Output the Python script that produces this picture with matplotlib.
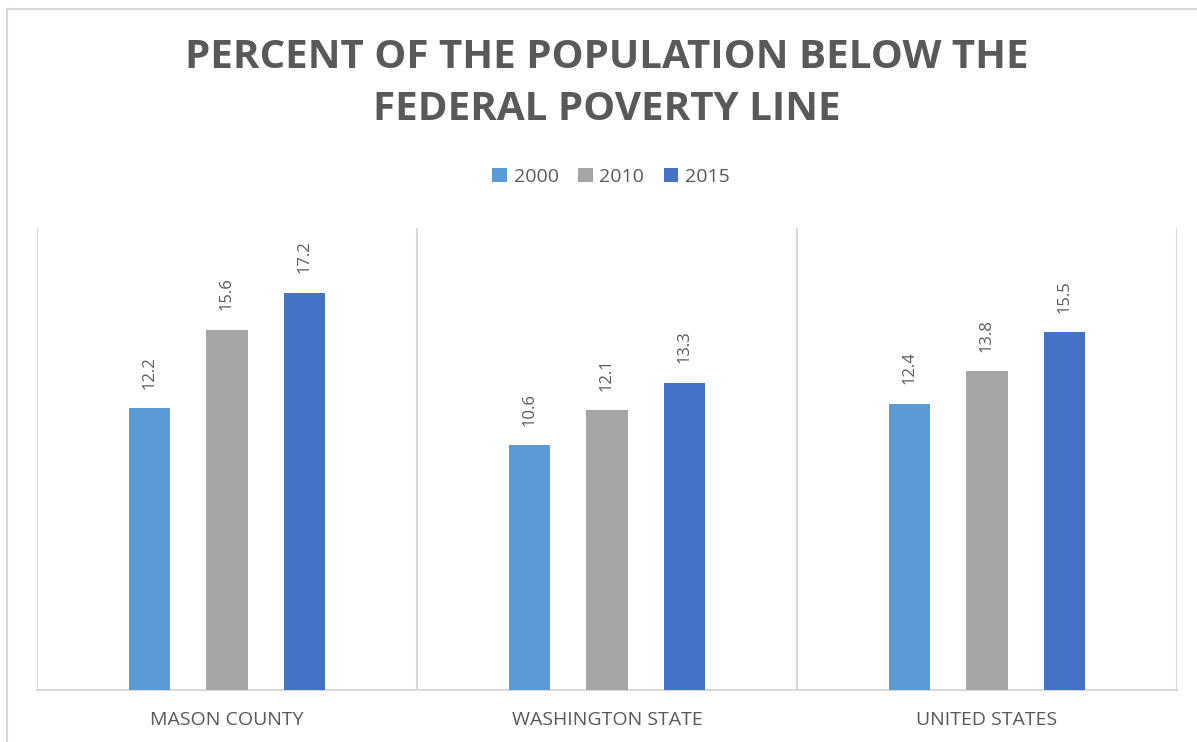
import matplotlib.pyplot as plt
import numpy as np
from matplotlib.lines import Line2D

# Data
categories = ['MASON COUNTY', 'WASHINGTON STATE', 'UNITED STATES']
years = ['2000', '2010', '2015']
values_2000 = [12.2, 10.6, 12.4]
values_2010 = [15.6, 12.1, 13.8]
values_2015 = [17.2, 13.3, 15.5]
series = [values_2000, values_2010, values_2015]
colors = ['#5B9BD5', '#A5A5A5', '#4472C4']

plt.rcParams['font.family'] = ['Open Sans', 'DejaVu Sans']
text_color = '#595959'
grid_color = '#D9D9D9'

fig = plt.figure(figsize=(11.97, 7.42), dpi=100)
W, H = 1197, 742
ax = fig.add_axes([37 / W, 1 - 690 / H, (1177 - 37) / W, (690 - 228) / H])

x = np.arange(len(categories))
offsets = [-0.205, 0.0, 0.205]
bar_w = 0.108
for vals, off, col, yr in zip(series, offsets, colors, years):
    bars = ax.bar(x + off, vals, width=bar_w, color=col, label=yr, zorder=3)
    for b, v in zip(bars, vals):
        ax.annotate(f'{v:.1f}', (b.get_x() + b.get_width() / 2, b.get_height()),
                    xytext=(0, 14), textcoords='offset points', rotation=90,
                    ha='center', va='bottom', fontsize=12, color=text_color)

ax.set_xlim(-0.5, 2.5)
ax.set_ylim(0, 20)
ax.set_yticks([])
ax.set_xticks(x)
ax.set_xticklabels(categories, fontsize=14, color=text_color)
ax.tick_params(axis='x', length=0, pad=15)
for s in ['top', 'right', 'left']:
    ax.spines[s].set_visible(False)
ax.spines['bottom'].set_color(grid_color)
ax.spines['bottom'].set_linewidth(1.5)
for gx in [-0.5, 0.5, 1.5, 2.5]:
    ax.axvline(gx, color=grid_color, linewidth=1.5, zorder=1)

# Title
fig.text(607 / W, 1 - 38 / H, 'PERCENT OF THE POPULATION BELOW THE\nFEDERAL POVERTY LINE',
         ha='center', va='top', fontsize=29, fontweight='bold', color=text_color,
         linespacing=1.42)

# Legend
fig.legend(loc='center', bbox_to_anchor=(611 / W, 1 - 177 / H), ncol=3, frameon=False,
           fontsize=14, labelcolor=text_color, handlelength=0.75, handleheight=0.75,
           handletextpad=0.35, columnspacing=1.0)

# Chart border
fig.add_artist(Line2D([7 / W, 1], [1 - 9 / H, 1 - 9 / H], color=grid_color, linewidth=1.5))
fig.add_artist(Line2D([7 / W, 7 / W], [0, 1 - 9 / H], color=grid_color, linewidth=1.5))

fig.savefig('out.png', dpi=100)
